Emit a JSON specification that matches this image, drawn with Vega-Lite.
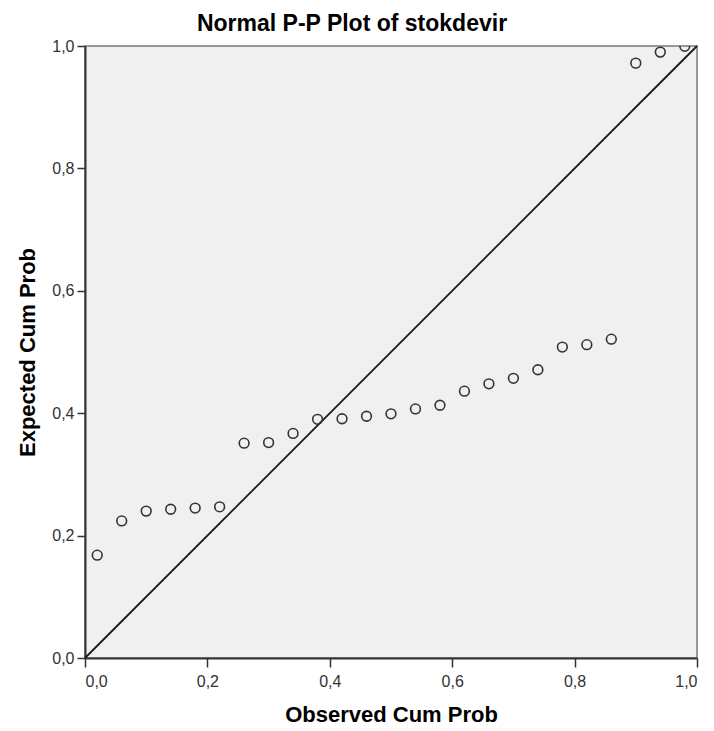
{
  "$schema": "https://vega.github.io/schema/vega-lite/v6.json",
  "width": 612,
  "height": 612,
  "autosize": {"type": "none"},
  "padding": {"left": 85, "top": 46, "right": 17, "bottom": 73},
  "background": "white",
  "config": {
    "font": "Liberation Sans",
    "view": {"fill": "#F0F0F0", "stroke": "#7a7a7a", "strokeWidth": 1.5}
  },
  "title": {
    "text": "Normal P-P Plot of stokdevir",
    "fontSize": 23,
    "fontWeight": "bold",
    "color": "#000000",
    "anchor": "middle",
    "dx": -39,
    "offset": 2
  },
  "datasets": {
    "pts": [
      {"obs": 0.02, "exp": 0.168},
      {"obs": 0.06, "exp": 0.224},
      {"obs": 0.10, "exp": 0.240},
      {"obs": 0.14, "exp": 0.243},
      {"obs": 0.18, "exp": 0.245},
      {"obs": 0.22, "exp": 0.247},
      {"obs": 0.26, "exp": 0.351},
      {"obs": 0.30, "exp": 0.352},
      {"obs": 0.34, "exp": 0.367},
      {"obs": 0.38, "exp": 0.390},
      {"obs": 0.42, "exp": 0.391},
      {"obs": 0.46, "exp": 0.395},
      {"obs": 0.50, "exp": 0.399},
      {"obs": 0.54, "exp": 0.407},
      {"obs": 0.58, "exp": 0.413},
      {"obs": 0.62, "exp": 0.436},
      {"obs": 0.66, "exp": 0.448},
      {"obs": 0.70, "exp": 0.457},
      {"obs": 0.74, "exp": 0.471},
      {"obs": 0.78, "exp": 0.508},
      {"obs": 0.82, "exp": 0.512},
      {"obs": 0.86, "exp": 0.521},
      {"obs": 0.90, "exp": 0.972},
      {"obs": 0.94, "exp": 0.990},
      {"obs": 0.98, "exp": 0.9995}
    ],
    "diag": [
      {"obs": 0, "exp": 0},
      {"obs": 1, "exp": 1}
    ]
  },
  "layer": [
    {
      "data": {"name": "diag"},
      "mark": {"type": "line", "color": "#1a1a1a", "strokeWidth": 1.8},
      "encoding": {
        "x": {"field": "obs", "type": "quantitative"},
        "y": {"field": "exp", "type": "quantitative"}
      }
    },
    {
      "data": {"name": "pts"},
      "mark": {"type": "point", "shape": "circle", "filled": false, "stroke": "#333333", "strokeWidth": 1.6, "size": 95, "clip": true, "opacity": 1},
      "encoding": {
        "x": {
          "field": "obs", "type": "quantitative",
          "scale": {"domain": [0, 1], "nice": false, "zero": false},
          "axis": {
            "title": "Observed Cum Prob",
            "titleFontSize": 22, "titleFontWeight": "bold", "titleColor": "#000000", "titlePadding": 15,
            "values": [0, 0.2, 0.4, 0.6, 0.8, 1.0],
            "labelExpr": "replace(format(datum.value, '.1f'), '.', ',')",
            "labelFont": "Liberation Sans", "labelFontSize": 16, "labelColor": "#333333", "labelPadding": 6,
            "tickSize": 9, "tickColor": "#333333", "tickWidth": 1.5,
            "domainColor": "#333333", "domainWidth": 2,
            "grid": false
          }
        },
        "y": {
          "field": "exp", "type": "quantitative",
          "scale": {"domain": [0, 1], "nice": false, "zero": false},
          "axis": {
            "title": "Expected Cum Prob",
            "titleFontSize": 22, "titleFontWeight": "bold", "titleColor": "#000000", "titlePadding": 12,
            "values": [0, 0.2, 0.4, 0.6, 0.8, 1.0],
            "labelExpr": "replace(format(datum.value, '.1f'), '.', ',')",
            "labelFont": "Liberation Sans", "labelFontSize": 16, "labelColor": "#333333", "labelPadding": 3,
            "tickSize": 8, "tickColor": "#333333", "tickWidth": 1.5,
            "domainColor": "#333333", "domainWidth": 2,
            "grid": false
          }
        }
      }
    }
  ]
}
